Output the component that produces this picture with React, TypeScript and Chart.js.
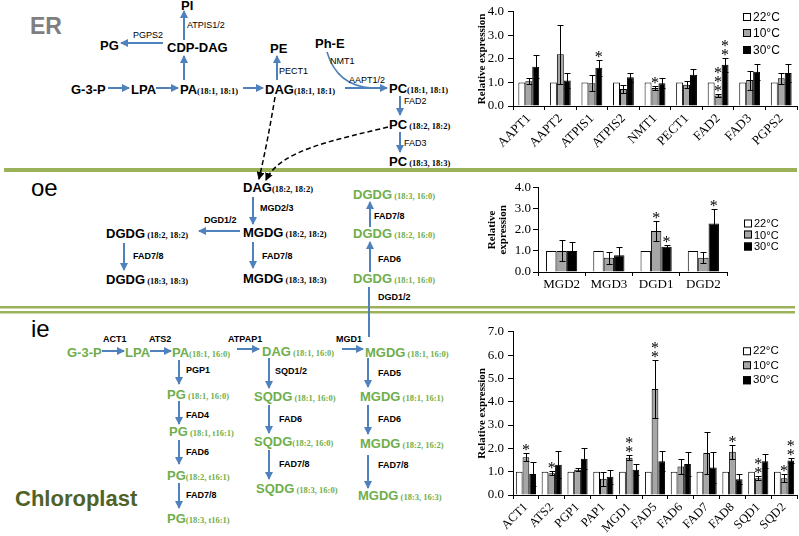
import React, { useEffect, useRef } from 'react';
import { Chart, registerables } from 'chart.js';

Chart.register(...registerables);

// ---------- data ----------
const seriesNames = ['22°C', '10°C', '30°C'];
const seriesColors = ['#ffffff', '#a6a6a6', '#000000'];

// ER panel
const erGenes = ['AAPT1', 'AAPT2', 'ATPIS1', 'ATPIS2', 'NMT1', 'PECT1', 'FAD2', 'FAD3', 'PGPS2'];
const er22 = [1, 1, 1, 1, 1, 1, 1, 1, 1];
const er10 = [1.05, 2.2, 0.97, 0.72, 0.76, 0.9, 0.45, 1.1, 1.18];
const er10Err = [0.13, 1.25, 0.35, 0.17, 0.07, 0.15, 0.06, 0.4, 0.24];
const er30 = [1.67, 1.08, 1.62, 1.22, 0.97, 1.33, 1.75, 1.45, 1.4];
const er30Err = [0.48, 0.32, 0.33, 0.2, 0.2, 0.22, 0.3, 0.35, 0.4];
const er10Sig = ['', '', '', '', '*', '', '***', '', ''];
const er30Sig = ['', '', '*', '', '', '', '**', '', ''];
const erYMax = 4;

// oe panel
const oeGenes = ['MGD2', 'MGD3', 'DGD1', 'DGD2'];
const oe22 = [1, 1, 1, 1];
const oe10 = [1.0, 0.68, 1.95, 0.68];
const oe10Err = [0.5, 0.28, 0.47, 0.25];
const oe30 = [1.0, 0.8, 1.2, 2.3];
const oe30Err = [0.42, 0.4, 0.1, 0.7];
const oe10Sig = ['', '', '*', ''];
const oe30Sig = ['', '', '*', '*'];
const oeYMax = 4;

// ie panel
const ieGenes = ['ACT1', 'ATS2', 'PGP1', 'PAP1', 'MGD1', 'FAD5', 'FAD6', 'FAD7', 'FAD8', 'SQD1', 'SQD2'];
const ie22 = [1, 1, 1, 1, 1, 1, 1, 1, 1, 1, 1];
const ie10 = [1.62, 0.93, 1.08, 0.7, 1.6, 4.55, 1.22, 1.8, 1.85, 0.72, 0.72];
const ie10Err = [0.17, 0.09, 0.07, 0.3, 0.12, 1.23, 0.33, 0.92, 0.3, 0.08, 0.18];
const ie30 = [0.9, 1.3, 1.55, 0.78, 1.08, 1.45, 1.33, 1.18, 0.68, 1.45, 1.48];
const ie30Err = [0.5, 0.57, 0.45, 0.29, 0.24, 0.43, 0.5, 0.65, 0.2, 0.3, 0.1];
const ie10Sig = ['*', '*', '', '', '**', '**', '', '', '*', '**', '*'];
const ie30Sig = ['', '', '', '', '', '', '', '', '', '', '**'];
const ieYMax = 7;

// ---------- diagram layout ----------
const BLUE = '#4f81bd';
const GREEN = '#6fae4c';

type Node = [string, string, number, number];
const erNodes: Node[] = [
  ['PI', '', 181, 5], ['CDP-DAG', '', 167, 47], ['PG', '', 100, 45], ['G-3-P', '', 71, 89],
  ['LPA', '', 131, 89], ['PA', '(18:1, 18:1)', 180, 89], ['DAG', '(18:1, 18:1)', 265, 89],
  ['PE', '', 270, 48], ['Ph-E', '', 315, 43], ['PC', '(18:1, 18:1)', 389, 88],
  ['PC', ' (18:2, 18:2)', 389, 124], ['PC', ' (18:3, 18:3)', 389, 161],
];
const oeBlackNodes: Node[] = [
  ['DAG', '(18:2, 18:2)', 243, 187], ['MGDG', ' (18:2, 18:2)', 243, 232], ['MGDG', ' (18:3, 18:3)', 243, 278],
  ['DGDG', ' (18:2, 18:2)', 106, 233], ['DGDG', ' (18:3, 18:3)', 106, 279],
];
const greenNodes: Node[] = [
  ['DGDG', ' (18:3, 16:0)', 353, 194], ['DGDG', ' (18:2, 16:0)', 353, 233], ['DGDG', ' (18:1, 16:0)', 353, 278],
  ['G-3-P', '', 67, 352], ['LPA', '', 125, 352], ['PA', '(18:1, 16:0)', 172, 352],
  ['DAG', ' (18:1, 16:0)', 262, 351], ['MGDG', ' (18:1, 16:0)', 365, 352],
  ['PG', ' (18:1, 16:0)', 167, 394], ['PG', ' (18:1, t16:1)', 169, 431], ['PG', '(18:2, t16:1)', 167, 475], ['PG', '(18:3, t16:1)', 167, 518],
  ['SQDG', ' (18:1, 16:0)', 254, 396], ['SQDG', '(18:2, 16:0)', 254, 441], ['SQDG', ' (18:3, 16:0)', 256, 488],
  ['MGDG', ' (18:1, 16:1)', 360, 396], ['MGDG', ' (18:2, 16:2)', 360, 443], ['MGDG', ' (18:3, 16:3)', 358, 495],
];
type Enz = [string, number, number];
const erEnz: Enz[] = [
  ['ATPIS1/2', 187, 25], ['PGPS2', 133, 35], ['PECT1', 279, 71], ['NMT1', 330, 61],
  ['AAPT1/2', 349, 80], ['FAD2', 404, 101], ['FAD3', 404, 143],
];
const plastidEnz: Enz[] = [
  ['MGD2/3', 260, 208], ['FAD7/8', 262, 256], ['DGD1/2', 204, 220], ['FAD7/8', 133, 256],
  ['FAD7/8', 374, 216], ['FAD6', 378, 259], ['DGD1/2', 378, 297],
  ['ACT1', 103, 339], ['ATS2', 149, 339], ['ATPAP1', 228, 339], ['MGD1', 336, 339],
  ['PGP1', 186, 370], ['FAD4', 186, 415], ['FAD6', 186, 452], ['FAD7/8', 186, 495],
  ['SQD1/2', 275, 371], ['FAD6', 279, 419], ['FAD7/8', 279, 464],
  ['FAD5', 378, 373], ['FAD6', 378, 419], ['FAD7/8', 378, 465],
];
const blueArrows: number[][] = [
  [184, 40, 184, 11], [163, 43, 121, 43], [184, 80, 184, 56], [108, 88, 129, 88], [156, 88, 178, 88],
  [243, 88, 263, 88], [277, 80, 277, 56], [345, 88, 387, 88], [400, 96, 400, 115], [400, 132, 400, 152],
  [253, 197, 253, 224], [253, 242, 253, 268], [240, 231, 199, 231], [124, 243, 124, 270],
  [370, 227, 370, 202], [370, 272, 370, 242], [369, 337, 369, 287],
  [102, 351, 124, 351], [150, 351, 171, 351], [237, 349, 259, 349], [342, 349, 363, 349],
  [179, 360, 179, 384], [179, 401, 179, 424], [179, 440, 179, 464], [179, 483, 179, 508],
  [269, 358, 269, 388], [269, 405, 269, 433], [269, 450, 269, 479],
  [368, 358, 368, 387], [368, 405, 368, 434], [368, 455, 368, 488],
];

// ---------- chart panel ----------
type PanelProps = {
  labels: string[];
  values: number[][];
  errors: (number[] | null)[];
  sig: (string[] | null)[];
  yMax: number;
  left: number; top: number; width: number; height: number;
  yWidth: number; xHeight: number; padTop: number; padRight: number;
  catPct: number; rotate: number;
  title: string | string[]; titleSize: number; titlePad: number; titleLH: number;
  tickSize: number; xTickSize: number; tickPad: number;
  legendLeft: number; legendTop: number; legendGap: number; legendFont: number;
};

function BarPanel(p: PanelProps) {
  const ref = useRef<HTMLCanvasElement>(null);
  useEffect(() => {
    const cap = 3;
    const errPlugin = {
      id: 'errbars',
      afterDatasetsDraw(chart: any) {
        const ctx = chart.ctx;
        const ys = chart.scales.y;
        ctx.save();
        ctx.strokeStyle = '#000';
        ctx.fillStyle = '#000';
        ctx.lineWidth = 1;
        ctx.font = '16px "Liberation Serif"';
        ctx.textAlign = 'center';
        ctx.textBaseline = 'alphabetic';
        p.values.forEach((vals, di) => {
          const errs = p.errors[di];
          const sig = p.sig[di];
          const meta = chart.getDatasetMeta(di);
          meta.data.forEach((bar: any, i: number) => {
            const v = vals[i];
            const e = errs ? errs[i] : 0;
            const x = Math.round(bar.x) + 0.5;
            const yt = Math.round(ys.getPixelForValue(v + e)) + 0.5;
            if (e) {
              const yb = Math.round(ys.getPixelForValue(Math.max(0, v - e))) + 0.5;
              ctx.beginPath();
              ctx.moveTo(x, yt); ctx.lineTo(x, yb);
              ctx.moveTo(x - cap, yt); ctx.lineTo(x + cap, yt);
              ctx.moveTo(x - cap, yb); ctx.lineTo(x + cap, yb);
              ctx.stroke();
            }
            const s = sig ? sig[i] : '';
            for (let k = 0; k < s.length; k++) ctx.fillText('*', bar.x, yt + 1 - k * 9);
          });
        });
        ctx.restore();
      },
    };
    const chart = new Chart(ref.current as HTMLCanvasElement, {
      type: 'bar',
      data: {
        labels: p.labels,
        datasets: p.values.map((vals, di) => ({
          label: seriesNames[di],
          data: vals,
          backgroundColor: seriesColors[di],
          borderColor: '#000',
          borderWidth: 1,
          categoryPercentage: p.catPct,
          barPercentage: 1,
        })),
      },
      options: {
        animation: false,
        responsive: false,
        maintainAspectRatio: false,
        layout: { padding: { top: p.padTop, right: p.padRight, left: 0, bottom: 0 } },
        plugins: { legend: { display: false }, tooltip: { enabled: false } },
        scales: {
          x: {
            grid: { display: true, drawOnChartArea: false, drawTicks: true, tickLength: 4, color: '#000', offset: true },
            border: { display: true, color: '#000' },
            ticks: {
              color: '#000', autoSkip: false, maxRotation: p.rotate, minRotation: p.rotate, padding: 1,
              font: { family: 'Liberation Serif', size: p.xTickSize },
            },
            afterFit: (s: any) => { s.height = p.xHeight; },
          },
          y: {
            min: 0, max: p.yMax,
            grid: { display: true, drawOnChartArea: false, drawTicks: true, tickLength: 5, color: '#000' },
            border: { display: true, color: '#000' },
            ticks: {
              stepSize: 1, color: '#000', padding: p.tickPad,
              font: { family: 'Liberation Serif', size: p.tickSize },
              callback: (v: any) => Number(v).toFixed(1),
            },
            title: {
              display: true, text: p.title, color: '#000',
              font: { family: 'Liberation Serif', size: p.titleSize, weight: 'bold', lineHeight: p.titleLH },
              padding: { top: p.titlePad, bottom: 0 },
            },
            afterFit: (s: any) => { s.width = p.yWidth; },
          },
        },
      } as any,
      plugins: [errPlugin],
    });
    return () => chart.destroy();
  }, []);
  return (
    <>
      <canvas ref={ref} width={p.width} height={p.height}
        style={{ position: 'absolute', left: p.left, top: p.top, width: p.width, height: p.height }} />
      {seriesNames.map((n, i) => (
        <div key={n} style={{
          position: 'absolute', left: p.legendLeft, top: p.legendTop + i * p.legendGap, transform: 'translateY(-50%)',
          display: 'flex', alignItems: 'center', whiteSpace: 'nowrap',
          fontFamily: '"Liberation Sans", Arial, sans-serif', fontSize: p.legendFont, color: '#000', lineHeight: 1,
        }}>
          <span style={{ display: 'inline-block', width: 6, height: 6, border: '1px solid #000', background: seriesColors[i], marginRight: 2 }} />
          {n}
        </div>
      ))}
    </>
  );
}

function NodeText({ n, color }: { n: Node; color: string }) {
  return (
    <div style={{
      position: 'absolute', left: n[2], top: n[3], transform: 'translateY(-50%)', whiteSpace: 'nowrap',
      color, lineHeight: 1, fontFamily: '"Liberation Sans", Arial, sans-serif', fontWeight: 'bold', fontSize: 13,
    }}>
      {n[0]}
      {n[1] && <span style={{ fontFamily: '"Liberation Serif", serif', fontSize: 8.5, fontWeight: 'bold', whiteSpace: 'pre' }}>{n[1]}</span>}
    </div>
  );
}

function EnzText({ e, bold }: { e: Enz; bold: boolean }) {
  return (
    <div style={{
      position: 'absolute', left: e[1], top: e[2], transform: 'translateY(-50%)', whiteSpace: 'nowrap',
      color: '#000', lineHeight: 1, fontFamily: '"Liberation Sans", Arial, sans-serif',
      fontWeight: bold ? 'bold' : 'normal', fontSize: 9,
    }}>{e[0]}</div>
  );
}

function Region({ t, x, y, size, bold, color }: { t: string; x: number; y: number; size: number; bold: boolean; color: string }) {
  return (
    <div style={{
      position: 'absolute', left: x, top: y, transform: 'translateY(-50%)', whiteSpace: 'nowrap', lineHeight: 1,
      fontFamily: '"Liberation Sans", Arial, sans-serif', fontWeight: bold ? 'bold' : 'normal', fontSize: size, color,
    }}>{t}</div>
  );
}

export default function App() {
  return (
    <div style={{ position: 'fixed', left: 0, top: 0, width: 799, height: 536, background: '#fff', overflow: 'hidden' }}>
      <svg width={799} height={536} style={{ position: 'absolute', left: 0, top: 0 }}>
        <defs>
          <marker id="ab" markerWidth="8" markerHeight="8" refX="7" refY="4" orient="auto" markerUnits="userSpaceOnUse">
            <path d="M0,0 L8,4 L0,8 z" fill={BLUE} />
          </marker>
          <marker id="ak" markerWidth="8" markerHeight="8" refX="7" refY="4" orient="auto" markerUnits="userSpaceOnUse">
            <path d="M0,0 L8,4 L0,8 z" fill="#000" />
          </marker>
        </defs>
        <rect x={4} y={168} width={793} height={4} fill="#9bb25a" />
        <rect x={0} y={306} width={795} height={2.5} fill="#9bb25a" />
        <rect x={0} y={311} width={795} height={2.5} fill="#9bb25a" />
        {blueArrows.map((a, i) => (
          <line key={i} x1={a[0]} y1={a[1]} x2={a[2]} y2={a[3]} stroke={BLUE} strokeWidth={2} markerEnd={i === 16 ? undefined : 'url(#ab)'} />
        ))}
        <path d="M327,52 Q337,86 372,88" stroke={BLUE} strokeWidth={1.6} fill="none" />
        <path d="M275,97 Q268,140 259,179" stroke="#000" strokeWidth={1.5} strokeDasharray="5 3" fill="none" markerEnd="url(#ak)" />
        <path d="M388,127 C335,140 280,150 266,180" stroke="#000" strokeWidth={1.5} strokeDasharray="5 3" fill="none" markerEnd="url(#ak)" />
      </svg>
      <Region t="ER" x={30} y={26} size={23} bold color="#7f7f7f" />
      <Region t="oe" x={31} y={188} size={24} bold={false} color="#000" />
      <Region t="ie" x={31} y={329} size={24} bold={false} color="#000" />
      <Region t="Chloroplast" x={15} y={499} size={22} bold color="#4f6228" />
      {erNodes.map((n, i) => <NodeText key={'e' + i} n={n} color="#000" />)}
      {oeBlackNodes.map((n, i) => <NodeText key={'o' + i} n={n} color="#000" />)}
      {greenNodes.map((n, i) => <NodeText key={'g' + i} n={n} color={GREEN} />)}
      {erEnz.map((e, i) => <EnzText key={'ee' + i} e={e} bold={false} />)}
      {plastidEnz.map((e, i) => <EnzText key={'pe' + i} e={e} bold />)}

      <BarPanel labels={erGenes} values={[er22, er10, er30]} errors={[null, er10Err, er30Err]} sig={[null, er10Sig, er30Sig]}
        yMax={erYMax} left={470} top={0} width={329} height={150} yWidth={43} xHeight={44} padTop={7} padRight={2}
        catPct={0.66} rotate={45} title="Relative expression" titleSize={11} titlePad={6} titleLH={1.2}
        tickSize={13} xTickSize={13} tickPad={4} legendLeft={743} legendTop={16.5} legendGap={16.5} legendFont={12} />
      <BarPanel labels={oeGenes} values={[oe22, oe10, oe30]} errors={[null, oe10Err, oe30Err]} sig={[null, oe10Sig, oe30Sig]}
        yMax={oeYMax} left={470} top={178} width={329} height={124} yWidth={68} xHeight={30} padTop={4} padRight={72}
        catPct={0.66} rotate={0} title={['Relative', 'expression']} titleSize={11} titlePad={17} titleLH={0.95}
        tickSize={13} xTickSize={13} tickPad={2} legendLeft={744} legendTop={223} legendGap={11.5} legendFont={11} />
      <BarPanel labels={ieGenes} values={[ie22, ie10, ie30]} errors={[null, ie10Err, ie30Err]} sig={[null, ie10Sig, ie30Sig]}
        yMax={ieYMax} left={470} top={320} width={329} height={216} yWidth={43} xHeight={41} padTop={6} padRight={2}
        catPct={0.78} rotate={45} title="Relative expression" titleSize={11} titlePad={6} titleLH={1.2}
        tickSize={13} xTickSize={12.5} tickPad={4} legendLeft={743} legendTop={351} legendGap={14.5} legendFont={11.5} />
    </div>
  );
}
